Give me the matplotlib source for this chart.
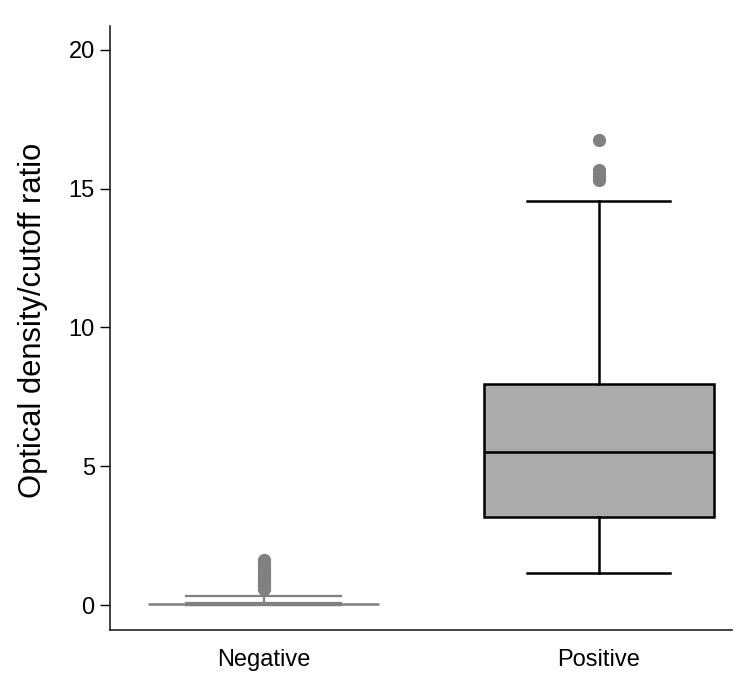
import matplotlib
matplotlib.use("Agg")
import matplotlib.pyplot as plt

plt.rcParams['font.family'] = ['Liberation Sans', 'DejaVu Sans']

groups = ['Negative', 'Positive']
# whisker low, Q1, median, Q3, whisker high
neg_stats = [0.0, 0.0, 0.04, 0.06, 0.32]
pos_stats = [1.15, 3.17, 5.51, 7.96, 14.56]
neg_outliers = [0.58, 0.63, 0.68, 0.73, 0.78, 0.84, 0.9, 0.96, 1.02, 1.1, 1.18, 1.26, 1.34, 1.42, 1.5, 1.57, 1.62]
pos_outliers = [15.32, 15.45, 15.58, 15.68, 16.77]
yticks = [0, 5, 10, 15, 20]


def make(stats, fliers, label):
    return dict(whislo=stats[0], q1=stats[1], med=stats[2], q3=stats[3],
                whishi=stats[4], fliers=fliers, label=label)


fig = plt.figure(figsize=(7.5, 6.81), dpi=100)
ax = fig.add_axes([0.1467, 0.0749, 0.8293, 0.8869])

gray = '#808080'
ax.bxp([make(neg_stats, neg_outliers, groups[0])], positions=[1], widths=0.46,
       capwidths=0.46, patch_artist=True,
       boxprops=dict(facecolor=gray, edgecolor=gray, linewidth=1.6),
       medianprops=dict(color=gray, linewidth=1.6),
       whiskerprops=dict(color=gray, linewidth=1.6),
       capprops=dict(color=gray, linewidth=1.6),
       flierprops=dict(marker='o', markerfacecolor=gray, markeredgecolor=gray, markersize=8.5))
# the negative group's median line runs wider than its box
ax.hlines(neg_stats[2], 1 - 0.687 / 2, 1 + 0.687 / 2, color=gray, linewidth=1.8, zorder=3)
ax.bxp([make(pos_stats, pos_outliers, groups[1])], positions=[2], widths=0.687,
       capwidths=0.425, patch_artist=True,
       boxprops=dict(facecolor='#ababab', edgecolor='black', linewidth=1.8),
       medianprops=dict(color='black', linewidth=1.8),
       whiskerprops=dict(color='black', linewidth=1.8),
       capprops=dict(color='black', linewidth=1.8),
       flierprops=dict(marker='o', markerfacecolor=gray, markeredgecolor=gray, markersize=8.5))

ax.set_xlim(0.542, 2.398)
ax.set_ylim(-0.9, 20.86)
ax.set_xticks([1, 2])
ax.set_xticklabels(groups)
ax.set_yticks(yticks)
ax.tick_params(axis='x', length=0, labelsize=17, pad=14)
ax.tick_params(axis='y', length=7, width=1, labelsize=17, pad=4)
ax.spines['top'].set_visible(False)
ax.spines['right'].set_visible(False)
for s in ['left', 'bottom']:
    ax.spines[s].set_color('#222222')
    ax.spines[s].set_linewidth(1.2)
ax.set_ylabel('Optical density/cutoff ratio', fontsize=22.2)
ax.yaxis.set_label_coords(-0.1, 0.513)

fig.savefig('out.png', dpi=100)
